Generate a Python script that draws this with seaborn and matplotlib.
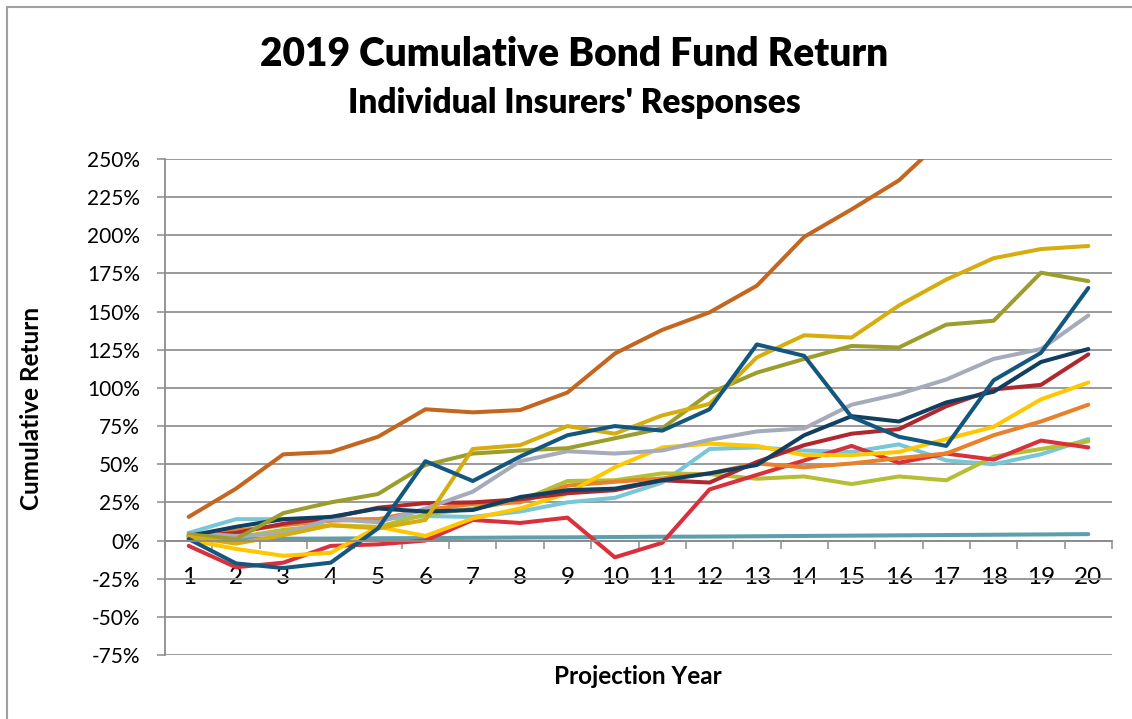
import numpy as np
import pandas as pd
import matplotlib
matplotlib.use('Agg')
import matplotlib.pyplot as plt
from matplotlib.ticker import PercentFormatter, FixedLocator
from matplotlib.lines import Line2D
import seaborn as sns

# 数据：各保险公司 20 年累计债券基金回报 (%)
years = list(range(1, 21))

brown = [15.5, 34, 56.5, 58, 68, 86, 84, 85.5, 97, 122.5,
         138, 149.5, 167, 199, 217, 236, 265, 295, 320, 345]
gold = [2.5, -2, 3.5, 10, 8, 13.5, 60, 62.5, 75, 70,
        82, 89.5, 120, 134.5, 133, 154, 171, 185, 191, 193]
olive = [4, 1, 18, 25, 30.5, 49.5, 57, 59, 60.5, 67,
         73.5, 96.5, 110, 119, 127.5, 126.5, 141.5, 144, 175.5, 170]
dark_blue = [1, -15, -18, -14.5, 8, 52, 39, 55, 69, 75,
             72, 86, 128.5, 121, 81, 68, 62, 105, 123, 165.5]
navy = [3, 9, 14, 15.5, 21, 19, 20, 28.5, 33, 34,
        39.5, 44, 49.5, 69, 81.5, 78, 90.5, 97.5, 117, 125.5]
gray = [5, 3, 4.5, 14, 12, 21, 32, 52, 58.5, 57,
        59, 66, 71.5, 73.5, 89, 96, 105.5, 119, 125.5, 147.5]
dark_red = [2, 5, 11, 15, 21.5, 24.5, 25, 27, 31, 33,
            39.5, 38, 51.5, 62.5, 70, 73, 88, 99, 102, 122]
yellow = [0.5, -5.5, -10, -8, 9, 3, 14.5, 21, 31, 48,
          61, 63.5, 62, 56, 56, 58, 66.5, 74.5, 92.5, 103.5]
orange = [3, 6.5, 10, 13, 14, 20, 24, 25, 36, 38.5,
          40.7, 44, 50.5, 48, 50.5, 54, 57, 69, 78, 89]
red = [-3.5, -17.5, -14.5, -3.5, -2.5, 0, 13.5, 11.5, 15, -11,
       -1.5, 33.5, 43, 52.5, 62, 51, 57, 53, 65.5, 61]
light_blue = [5, 14, 14, 14, 14, 16, 15.5, 19, 25, 28,
              38, 60, 61, 59, 58, 63, 52.5, 50, 56.5, 66.5]
yellow_green = [3, 2, 7, 10, 9, 17, 21, 26, 39, 39.5,
                44, 43.5, 40.5, 42, 37, 42, 39.5, 55, 60, 65]
teal = [0.8, 1.0, 1.2, 1.3, 1.5, 1.6, 1.8, 2.0, 2.1, 2.3,
        2.5, 2.6, 2.8, 3.0, 3.2, 3.4, 3.6, 3.8, 4.0, 4.2]

series = {
    'teal': teal, 'light_blue': light_blue, 'yellow_green': yellow_green,
    'red': red, 'orange': orange, 'yellow': yellow, 'dark_red': dark_red,
    'gray': gray, 'navy': navy, 'olive': olive, 'gold': gold,
    'dark_blue': dark_blue, 'brown': brown,
}
colors = {
    'teal': '#5E9FAD', 'light_blue': '#78C6D6', 'yellow_green': '#B5BF35',
    'red': '#DA303B', 'orange': '#E8812A', 'yellow': '#FFC700',
    'dark_red': '#B1272E', 'gray': '#A5ABBA', 'navy': '#123F60',
    'olive': '#9C9E2C', 'gold': '#D6AD0C', 'dark_blue': '#13577F',
    'brown': '#C4661F',
}

y_ticks = list(range(-75, 251, 25))

df = pd.DataFrame({'year': years, **series}).melt(
    id_vars='year', var_name='insurer', value_name='ret')

sns.set_style('white')
plt.rcParams['font.family'] = ['Lato', 'DejaVu Sans']
plt.rcParams['axes.unicode_minus'] = False
plt.rcParams['text.color'] = 'black'

fig = plt.figure(figsize=(11.32, 7.19), dpi=100)
ax = fig.add_axes([165 / 1132, 1 - 655 / 719, 947 / 1132, 496 / 719])

sns.lineplot(data=df, x='year', y='ret', hue='insurer',
             hue_order=list(series.keys()), palette=colors,
             linewidth=2.9, legend=False, ax=ax)

ax.set_xlim(0.5, 20.5)
ax.set_ylim(-75, 250)
ax.yaxis.set_major_locator(FixedLocator(y_ticks))
ax.yaxis.set_major_formatter(PercentFormatter(decimals=0))
ax.set_xticks(years)
ax.set_xticks(np.arange(0.5, 21, 1), minor=True)
ax.yaxis.grid(True, color='#9a9a9a', linewidth=1.4)
ax.set_axisbelow(True)

for s in ['top', 'right']:
    ax.spines[s].set_visible(False)
ax.spines['bottom'].set_position(('data', 0))
ax.spines['bottom'].set_color('#8c8c8c')
ax.spines['bottom'].set_linewidth(1.3)
ax.spines['left'].set_color('#8c8c8c')
ax.spines['left'].set_linewidth(1.3)

ax.tick_params(axis='y', which='major', direction='out', length=6,
               width=1.1, color='#8c8c8c', pad=12, labelsize=15,
               labelcolor='black', left=True)
ax.tick_params(axis='x', which='major', length=0, pad=19, labelsize=17.5,
               labelcolor='black')
ax.tick_params(axis='x', which='minor', direction='out', length=6,
               width=1.1, color='#8c8c8c', bottom=True)
ax.set_xlabel('')
ax.set_ylabel('')

fig.text(574 / 1132, 1 - 55 / 719, '2019 Cumulative Bond Fund Return',
         ha='center', va='center', fontsize=28, fontweight='heavy',
         color='black')
fig.text(574 / 1132, 1 - 103 / 719, "Individual Insurers' Responses",
         ha='center', va='center', fontsize=24, fontweight='heavy',
         color='black')
fig.text(32 / 1132, 1 - 408 / 719, 'Cumulative Return', rotation=90,
         ha='center', va='center', fontsize=17.5, fontweight='bold',
         color='black')
fig.text(638 / 1132, 1 - 677 / 719, 'Projection Year',
         ha='center', va='center', fontsize=17.5, fontweight='bold',
         color='black')

# 图表外框（左、上）
fig.add_artist(Line2D([7 / 1132, 7 / 1132], [0, 1 - 7 / 719],
                      transform=fig.transFigure, color='#a0a0a0', lw=1.5))
fig.add_artist(Line2D([7 / 1132, 1], [1 - 7 / 719, 1 - 7 / 719],
                      transform=fig.transFigure, color='#a0a0a0', lw=1.5))

fig.savefig('out.png', dpi=100)
